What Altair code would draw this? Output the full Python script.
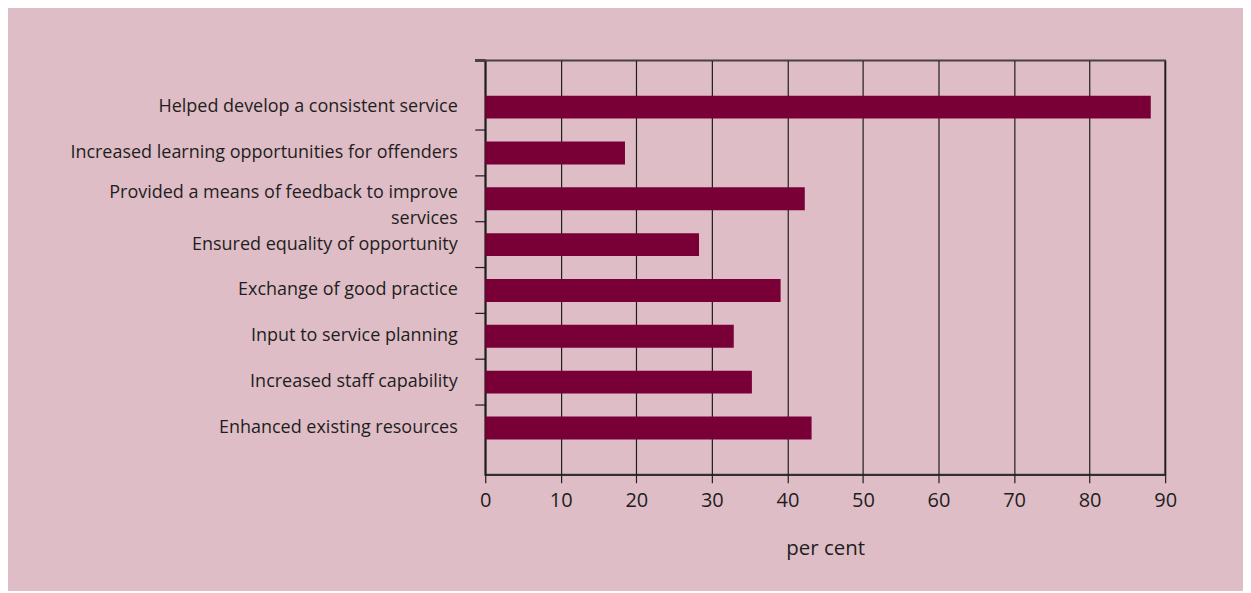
import altair as alt
import pandas as pd

categories = [
    "Helped develop a consistent service",
    "Increased learning opportunities for offenders",
    "Provided a means of feedback to improve services",
    "Ensured equality of opportunity",
    "Exchange of good practice",
    "Input to service planning",
    "Increased staff capability",
    "Enhanced existing resources",
]
values = [88.1, 18.5, 42.3, 28.3, 39.1, 32.9, 35.3, 43.2]
x_ticks = [0, 10, 20, 30, 40, 50, 60, 70, 80, 90]

BG = "#dfbdc6"
BAR = "#780037"
INK = "#1e1e1e"
FONT = "Open Sans"

df = pd.DataFrame({"category": categories, "value": values})
bounds = pd.DataFrame({"category": categories[1:]})

yscale = alt.Scale(domain=categories, paddingInner=0.5, paddingOuter=0.77)

WRAPPED = "Provided a means of feedback to improve services"
label_expr = (
    f"datum.value == '{WRAPPED}' ? "
    "['Provided a means of feedback to improve', 'services'] : datum.value"
)

bars = alt.Chart(df).mark_bar(color=BAR).encode(
    x=alt.X(
        "value:Q",
        scale=alt.Scale(domain=[0, 90], nice=False, zero=True),
        axis=alt.Axis(
            values=x_ticks,
            title="per cent",
            grid=True,
            gridColor=INK,
            gridWidth=1.2,
            gridOpacity=1,
            domainColor=INK,
            domainWidth=1.2,
            tickColor=INK,
            tickWidth=1.2,
            tickSize=8,
            labelFlush=False,
            labelFont=FONT,
            labelFontSize=20,
            labelColor=INK,
            labelPadding=8,
            titleFont=FONT,
            titleFontSize=20.5,
            titleFontWeight="normal",
            titleColor=INK,
            titlePadding=28,
        ),
    ),
    y=alt.Y(
        "category:N",
        scale=yscale,
        sort=categories,
        axis=alt.Axis(
            title=None,
            ticks=False,
            domainColor=INK,
            domainWidth=1.2,
            labelFont=FONT,
            labelFontSize=18,
            labelColor=INK,
            labelPadding=28,
            labelLimit=500,
            labelLineHeight=26,
            labelOffset={
                "condition": {"test": f"datum.value == '{WRAPPED}'", "value": -6},
                "value": 0,
            },
            labelExpr=label_expr,
        ),
    ),
)

ticks = alt.Chart(bounds).mark_rule(color=INK, strokeWidth=1.2, yOffset=-11.5).encode(
    y=alt.Y("category:N", scale=yscale, sort=categories, bandPosition=0),
    x=alt.value(-10),
    x2=alt.value(0),
)

top_ext = alt.Chart(bounds).mark_rule(color="#4a4146", strokeWidth=2).encode(
    y=alt.value(0),
    x=alt.value(-10),
    x2=alt.value(0),
)

chart = (
    alt.layer(bars, ticks, top_ext)
    .properties(
        width=681,
        height=415,
        background=BG,
        padding={"left": 478, "top": 52, "right": 78, "bottom": 116},
        autosize=alt.AutoSizeParams(type="none"),
    )
    .configure_view(stroke="#4a4146", strokeWidth=2)
)

chart.save("out.html", embed_options={"renderer": "svg", "actions": False})
